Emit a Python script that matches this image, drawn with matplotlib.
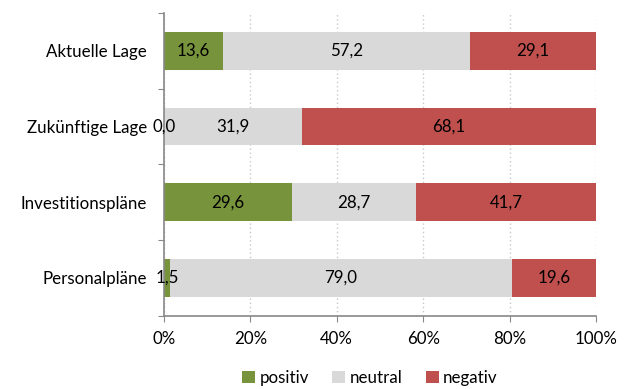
import matplotlib.pyplot as plt
import numpy as np

# survey answers in percent
categories = ['Aktuelle Lage', 'Zukünftige Lage', 'Investitionspläne', 'Personalpläne']
positiv = [13.6, 0.0, 29.6, 1.5]
neutral = [57.2, 31.9, 28.7, 79.0]
negativ = [29.1, 68.1, 41.7, 19.6]
xticks = [0, 20, 40, 60, 80, 100]

plt.rcParams['font.family'] = ['Lato', 'DejaVu Sans']
plt.rcParams['font.size'] = 12.2

fig = plt.figure(figsize=(6.28, 3.89), dpi=100)
ax = fig.add_axes([0.261, 0.188, 0.688, 0.779])

y = np.arange(len(categories))
left = np.zeros(len(categories))
series = [('positiv', positiv, '#77933C'),
          ('neutral', neutral, '#D9D9D9'),
          ('negativ', negativ, '#C0504D')]
for name, vals, col in series:
    vals = np.array(vals)
    ax.barh(y, vals, left=left, height=0.5, color=col, label=name, zorder=2)
    for yi, l, v in zip(y, left, vals):
        ax.text(l + v / 2, yi, f'{v:.1f}'.replace('.', ','), ha='center', va='center',
                color='black', zorder=3)
    left = left + vals

ax.set_xlim(0, 100)
ax.set_ylim(3.5, -0.5)
ax.set_xticks(xticks)
ax.set_xticklabels([f'{t}%' for t in xticks])
ax.set_yticks(np.arange(-0.5, 4, 1))
ax.set_yticklabels([])
ax.set_yticks(y, minor=True)
ax.set_yticklabels(categories, minor=True)
ax.tick_params(axis='y', which='minor', length=0, pad=12)
ax.tick_params(axis='y', which='major', length=4, color='#888888')
ax.tick_params(axis='x', length=4, color='#888888', pad=7)

ax.grid(axis='x', color='#C8C8C8', linestyle=(0, (1, 2)), linewidth=1, zorder=0)
for s in ['top', 'right']:
    ax.spines[s].set_visible(False)
for s in ['left', 'bottom']:
    ax.spines[s].set_color('#888888')
    ax.spines[s].set_linewidth(1.2)

fig.legend(loc='center', bbox_to_anchor=(0.589, 0.028), ncol=3, frameon=False,
           handlelength=0.75, handleheight=0.75, handletextpad=0.25, columnspacing=1.4)

plt.savefig('out.png', dpi=100)
